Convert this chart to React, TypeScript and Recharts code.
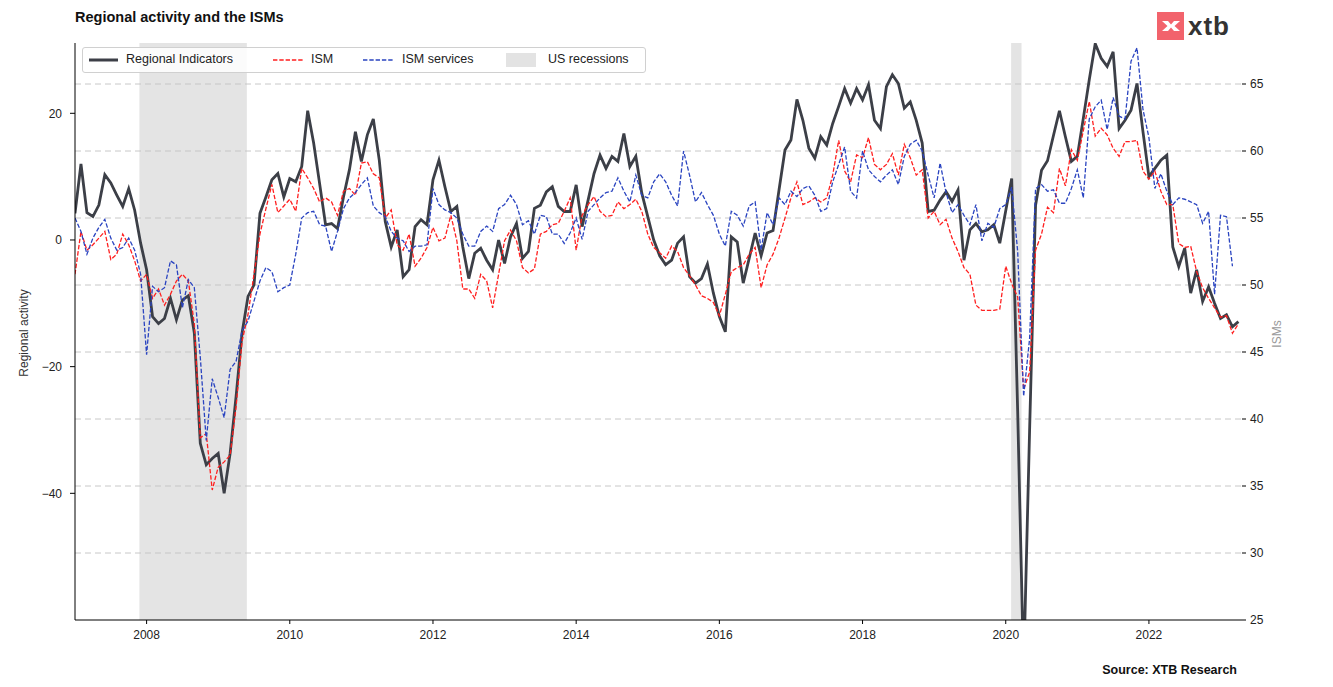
import React from 'react';
import { LineChart, Line, XAxis, YAxis, CartesianGrid, ReferenceArea } from 'recharts';

// monthly, Jan 2007 .. Apr 2023
const regional = [
  4.2, 12.0, 4.3, 3.7, 5.5, 10.3, 9.0, 7.1, 5.3, 8.1, 4.7, -0.5,
  -4.7, -12.1, -13.2, -12.4, -9.2, -12.6, -9.5, -8.8, -14.7, -32.1, -35.5, -34.5,
  -33.7, -40.0, -33.7, -24.7, -14.7, -8.9, -7.1, 4.2, 6.8, 9.5, 10.5, 6.8,
  9.7, 9.2, 11.6, 20.4, 15.3, 8.9, 2.4, 2.6, 1.8, 6.8, 11.1, 17.1,
  12.4, 16.6, 19.1, 12.6, 2.9, -1.1, 1.6, -5.8, -4.7, 2.1, 3.2, 2.4,
  9.5, 12.6, 8.4, 4.5, 5.3, -1.1, -6.1, -2.1, -1.3, -3.2, -4.7, 0.0,
  -3.7, 0.5, 2.6, -2.9, -1.8, 5.0, 5.5, 7.6, 8.4, 5.3, 4.5, 4.5,
  8.7, 2.1, 6.3, 10.5, 13.4, 11.3, 13.2, 12.4, 16.8, 11.6, 13.2, 7.4,
  3.7, 0.0, -2.5, -3.9, -3.2, -0.5, 0.5, -5.8, -6.8, -6.1, -3.8, -8.4,
  -12.1, -14.5, 0.5, -0.3, -6.8, -2.9, 1.1, -2.5, 1.1, 1.5, 7.9, 14.2,
  15.8, 22.2, 18.9, 14.5, 12.9, 16.3, 15.0, 18.4, 21.1, 23.9, 21.6, 23.9,
  22.1, 24.5, 18.9, 17.6, 24.2, 26.1, 24.7, 20.8, 21.8, 18.9, 15.3, 4.5,
  4.7, 6.3, 7.6, 6.1, 7.9, -3.2, 1.6, 2.6, 1.3, 1.6, 2.4, -0.5,
  4.6, 9.7, -27.0, -68.0, -30.0, 5.5, 11.0, 12.5, 16.5, 20.4, 16.3, 12.4,
  13.2, 19.2, 25.3, 31.0, 28.7, 27.4, 29.7, 17.6, 18.9, 20.5, 24.7, 17.1,
  10.0, 11.3, 12.6, 13.4, -1.1, -4.2, -1.3, -8.4, -4.7, -9.7, -7.4, -10.0,
  -12.4, -11.8, -13.7, -12.9,
];

const ism = [
  50.8, 54.0, 52.6, 53.0, 53.5, 54.0, 51.9, 52.3, 53.8, 53.0, 51.8, 50.3,
  50.8, 49.0, 49.7, 48.5, 49.3, 50.3, 50.8, 50.3, 47.1, 38.6, 38.9, 34.7,
  36.4, 36.8, 37.3, 40.9, 45.8, 47.8, 50.8, 53.8, 55.7, 57.5, 55.4, 55.9,
  56.4, 55.5, 58.7, 58.0, 57.2, 56.2, 56.5, 56.2, 55.2, 57.0, 57.2, 56.7,
  59.1, 59.2, 58.3, 58.0, 55.0, 55.6, 53.0, 52.6, 53.8, 51.4, 52.0, 52.8,
  54.3, 53.3, 53.5, 55.2, 53.3, 49.7, 49.7, 49.0, 50.8, 50.3, 48.3, 50.8,
  53.3, 54.1, 53.3, 51.3, 50.9, 51.2, 53.8, 54.0, 54.5, 54.6, 55.5, 56.5,
  52.6, 55.2, 56.0, 56.6, 55.5, 55.1, 55.2, 56.2, 55.7, 56.0, 56.4, 55.5,
  53.8, 52.8, 52.4, 52.0, 52.9, 52.5, 51.3, 50.7, 50.0, 49.2, 49.0, 48.7,
  47.7, 49.3, 51.0, 51.3, 51.5, 52.3, 52.8, 49.8, 51.5, 52.3, 53.5, 55.0,
  56.5, 57.7, 56.0, 56.2, 56.5, 56.2, 56.5, 58.2, 60.8, 58.5, 57.7, 59.7,
  59.5, 61.0, 59.0, 58.6, 59.0, 59.8, 58.2, 60.5, 59.5, 58.2, 58.6, 55.0,
  55.5, 54.5, 54.9, 53.5, 52.5, 51.3, 50.8, 48.5, 48.1, 48.1, 48.1, 48.2,
  51.4, 50.1, 49.1, 42.2, 43.5, 52.6, 53.8, 55.8, 55.4, 58.7, 57.4, 60.1,
  59.3, 61.5, 63.7, 61.1, 61.7, 61.2, 60.2, 59.6, 60.7, 60.7, 60.8, 58.5,
  57.9, 58.5, 57.0, 56.0, 56.0, 53.1, 52.8, 52.9, 51.0, 49.8, 49.0, 48.3,
  47.6, 47.7, 46.4, 47.1,
];

const ismServices = [
  55.0, 54.0, 52.3, 53.5, 54.3, 54.9, 53.5, 52.6, 52.8, 53.5, 52.6, 50.8,
  44.8, 49.9, 49.5, 49.8, 51.8, 51.5, 48.3, 50.4, 49.8, 44.6, 38.4, 43.0,
  41.6, 40.1, 43.7, 44.3, 46.6, 47.3, 48.8, 50.3, 51.3, 51.0, 49.5, 49.8,
  50.0, 52.3, 55.0, 55.4, 55.5, 54.5, 54.4, 52.5, 54.0, 55.7, 56.5, 56.9,
  57.5, 58.0, 55.9, 55.4, 55.1, 54.0, 53.5, 53.3, 52.5, 52.9, 52.9, 53.0,
  57.2, 56.0, 55.6, 55.4, 55.0, 53.8, 52.9, 52.9, 54.0, 54.4, 54.0, 55.7,
  56.0, 56.7, 56.0, 54.5, 54.8, 53.8, 55.2, 55.1, 53.8, 53.8, 53.1, 53.9,
  55.0, 53.4, 55.5, 56.0, 56.5, 56.9, 57.0, 58.0, 57.0, 56.2, 58.2, 56.7,
  56.5, 57.7, 58.3, 57.7, 56.7, 55.9, 60.0, 58.2, 56.2, 56.9, 56.0, 55.2,
  53.8, 52.9, 55.5, 55.2, 54.4, 55.9, 56.2, 52.6, 55.4, 54.5, 56.5, 56.0,
  57.0, 56.6, 57.2, 57.4, 56.7, 55.5, 55.7, 57.7, 59.0, 60.3, 57.0, 56.5,
  60.0, 58.6, 58.1, 57.7, 58.2, 58.6, 57.5, 59.6, 60.5, 60.8, 60.0, 58.2,
  56.5, 59.1, 56.9, 55.4, 56.0, 55.2, 54.5, 56.0, 53.3, 54.6, 54.3, 55.7,
  56.0, 57.3, 52.5, 41.7, 46.0, 57.2, 57.5, 57.0, 57.1, 56.1, 56.1, 57.2,
  58.6, 56.5, 62.4, 63.3, 63.8, 61.6, 64.0, 62.6, 62.4, 66.7, 67.7, 63.1,
  61.0, 57.2, 58.3, 57.0, 56.0, 56.5, 56.4, 56.2, 56.0, 54.6, 55.5, 49.3,
  55.2, 55.1, 51.4, null,
];

const xTicks = [2008, 2010, 2012, 2014, 2016, 2018, 2020, 2022];
const leftTicks = [-40, -20, 0, 20];
const rightTicks = [25, 30, 35, 40, 45, 50, 55, 60, 65];
const gridValues = [30, 35, 40, 45, 50, 55, 60, 65];
const recessionStarts = [2007.9, 2020.075];
const recessionEnds = [2009.4, 2020.22];

const data = regional.map((v, m) => ({
  t: 2007 + m / 12,
  regional: v,
  ism: ism[m],
  services: ismServices[m],
}));

const DARK = '#3c3f47';
const RED = '#ff1f1f';
const BLUE = '#2a44c0';
const FONT = "'Liberation Sans', Arial, sans-serif";

const minus = (v: number) => (v < 0 ? '\u2212' + Math.abs(v) : String(v));

const Logo = () => (
  <svg width={90} height={32} style={{ position: 'absolute', left: 1157, top: 10 }}>
    <rect x={0} y={2} width={27} height={28} fill="#f2636c" />
    <path d="M5 11 L11 11 L14 14.5 L17 11 L23 11 L17.5 16 L23 21 L17 21 L14 17.5 L11 21 L5 21 L10.5 16 Z" fill="#fff" />
    <text x={31} y={25} fontSize={26} fontWeight="bold" fill="#333" fontFamily={FONT} letterSpacing={1}>xtb</text>
  </svg>
);

const Legend = () => (
  <div
    style={{
      position: 'absolute', left: 82, top: 47, width: 562, height: 24,
      border: '1px solid #d0d0d0', borderRadius: 3, background: 'rgba(255,255,255,0.85)',
      fontSize: 12.5, color: '#222',
    }}
  >
    <svg width={562} height={24} style={{ position: 'absolute', left: 0, top: 0 }}>
      <line x1={6} x2={35} y1={12} y2={12} stroke={DARK} strokeWidth={3} />
      <line x1={190} x2={220} y1={12} y2={12} stroke={RED} strokeWidth={1.3} strokeDasharray="4.4 1.9" />
      <line x1={280} x2={310} y1={12} y2={12} stroke={BLUE} strokeWidth={1.3} strokeDasharray="4.4 1.9" />
      <rect x={423} y={5} width={30} height={14} fill="#e3e3e3" />
    </svg>
    <span style={{ position: 'absolute', left: 43, top: 4 }}>Regional Indicators</span>
    <span style={{ position: 'absolute', left: 228, top: 4 }}>ISM</span>
    <span style={{ position: 'absolute', left: 319, top: 4 }}>ISM services</span>
    <span style={{ position: 'absolute', left: 465, top: 4 }}>US recessions</span>
  </div>
);

const App = () => {
  return (
    <div style={{ position: 'relative', width: 1333, height: 687, fontFamily: FONT, background: '#fff' }}>
      <style>{'body{margin:0}'}</style>
      <div style={{ position: 'absolute', left: 75, top: 9, fontSize: 14.5, fontWeight: 'bold', color: '#111' }}>
        Regional activity and the ISMs
      </div>
      <Logo />
      <LineChart width={1333} height={687} data={data} margin={{ top: 43, right: 51, bottom: 37, left: 15 }}>
        {recessionStarts.map((s, i) => (
          <ReferenceArea
            key={i}
            yAxisId="left"
            x1={s}
            x2={recessionEnds[i]}
            fill="#c4c4c4"
            fillOpacity={0.45}
            stroke="none"
            ifOverflow="hidden"
          />
        ))}
        <CartesianGrid
          yAxisId="right"
          vertical={false}
          horizontalValues={gridValues}
          stroke="#c8c8c8"
          strokeDasharray="6 4"
        />
        <XAxis
          dataKey="t"
          type="number"
          domain={[2007, 2023.3]}
          allowDataOverflow
          ticks={xTicks}
          interval={0}
          height={30}
          stroke="#000"
          tickSize={4}
          tickMargin={6}
          tick={{ fill: '#222', fontSize: 12 }}
        />
        <YAxis
          yAxisId="left"
          domain={[-60, 31.1]}
          allowDataOverflow
          ticks={leftTicks}
          width={60}
          stroke="#000"
          tickSize={5}
          tickMargin={8}
          tickFormatter={minus}
          tick={{ fill: '#222', fontSize: 12 }}
        />
        <YAxis
          yAxisId="right"
          orientation="right"
          domain={[25, 68.06]}
          allowDataOverflow
          ticks={rightTicks}
          width={40}
          axisLine={false}
          stroke="#000"
          tickSize={4}
          tickMargin={4}
          tick={{ fill: '#222', fontSize: 12 }}
        />
        <Line yAxisId="left" type="linear" dataKey="regional" stroke={DARK} strokeWidth={2.8} dot={false} isAnimationActive={false} />
        <Line yAxisId="right" type="linear" dataKey="ism" stroke={RED} strokeWidth={1.3} strokeDasharray="4.4 1.9" dot={false} isAnimationActive={false} />
        <Line yAxisId="right" type="linear" dataKey="services" stroke={BLUE} strokeWidth={1.3} strokeDasharray="4.4 1.9" dot={false} isAnimationActive={false} />
      </LineChart>
      <Legend />
      <div
        style={{
          position: 'absolute', left: 24, top: 333, transform: 'translate(-50%, -50%) rotate(-90deg)',
          whiteSpace: 'nowrap', fontSize: 12, color: '#333',
        }}
      >
        Regional activity
      </div>
      <div
        style={{
          position: 'absolute', left: 1277, top: 334, transform: 'translate(-50%, -50%) rotate(-90deg)',
          whiteSpace: 'nowrap', fontSize: 12, color: '#999',
        }}
      >
        ISMs
      </div>
      <div style={{ position: 'absolute', right: 96, top: 663, fontSize: 12.5, fontWeight: 'bold', color: '#111' }}>
        Source: XTB Research
      </div>
    </div>
  );
};

export default App;
